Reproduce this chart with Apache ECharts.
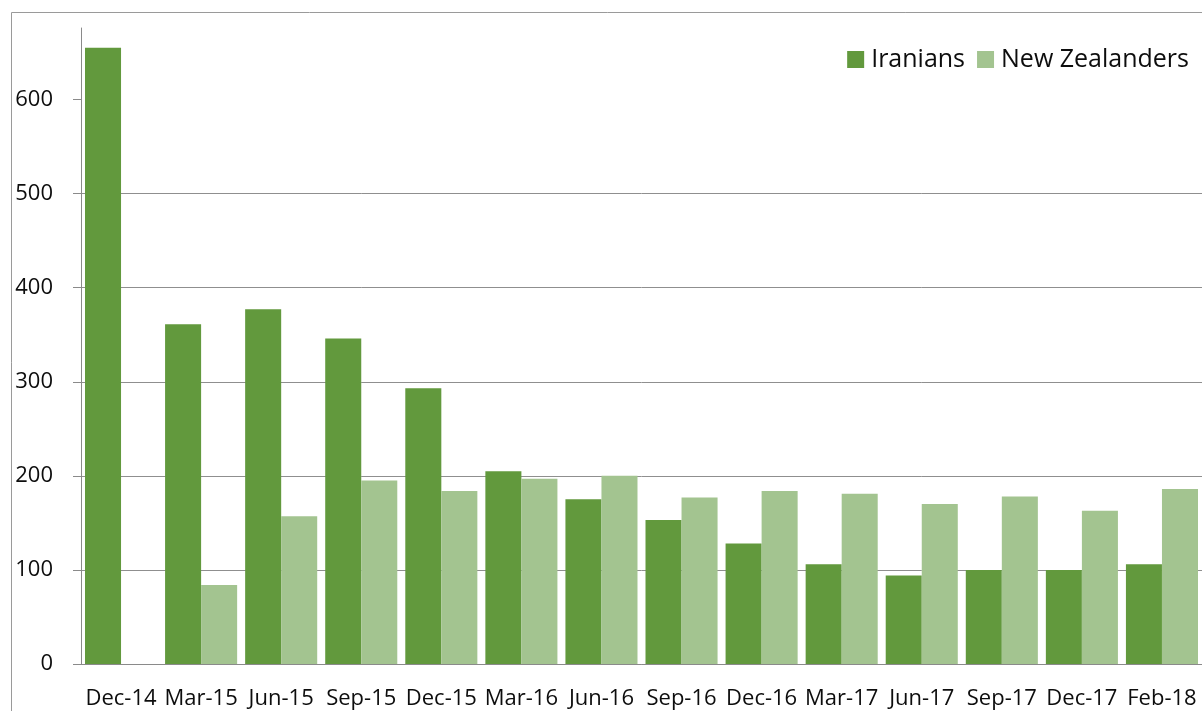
<!DOCTYPE html>
<html>
<head>
<meta charset="utf-8">
<script src="https://cdn.jsdelivr.net/npm/echarts@6/dist/echarts.min.js"></script>
<style>
  html, body { margin: 0; padding: 0; background: #ffffff; }
  #main { width: 1202px; height: 711px; }
</style>
</head>
<body>
<div id="main"></div>
<script>
// quarters shown on the x axis
var categories = ['Dec-14', 'Mar-15', 'Jun-15', 'Sep-15', 'Dec-15', 'Mar-16', 'Jun-16',
  'Sep-16', 'Dec-16', 'Mar-17', 'Jun-17', 'Sep-17', 'Dec-17', 'Feb-18']
var iranians = [655, 361, 377, 346, 293, 205, 175, 153, 128, 106, 94, 100, 100, 106]
// no bar for Dec-14
var newZealanders = ['-', 84, 157, 195, 184, 197, 200, 177, 184, 181, 170, 178, 163, 186]
var yTicks = [0, 100, 200, 300, 400, 500, 600]

var myChart = echarts.init(document.getElementById('main'))
var labelFont = {
  fontFamily: 'Open Sans',
  fontSize: 22,
  color: '#0d0d0d'
}

myChart.setOption({
  animation: false,
  graphic: [
    {
      type: 'rect',
      shape: { x: 11.5, y: 12.5, width: 1300, height: 800 },
      style: { fill: 'none', stroke: '#9a9a9a', lineWidth: 1 },
      silent: true
    }
  ],
  legend: {
    data: ['Iranians', 'New Zealanders'],
    right: 8,
    top: 42,
    icon: 'rect',
    itemWidth: 17,
    itemHeight: 17,
    itemGap: 12,
    textStyle: {
      fontFamily: 'Open Sans',
      fontSize: 25,
      color: '#0d0d0d',
      padding: [0, 0, 0, 2]
    }
  },
  grid: {
    left: 81,
    right: -6,
    top: 28,
    bottom: 47
  },
  xAxis: {
    type: 'category',
    data: categories,
    axisLine: { lineStyle: { color: '#8a8a8a' } },
    axisTick: { length: 8, lineStyle: { color: '#8a8a8a' } },
    axisLabel: Object.assign({ margin: 24, interval: 0 }, labelFont)
  },
  yAxis: {
    type: 'value',
    min: 0,
    max: 676,
    interval: 100,
    axisLine: { show: true, lineStyle: { color: '#8a8a8a' } },
    axisTick: {
      show: true,
      length: 8,
      customValues: yTicks,
      lineStyle: { color: '#8a8a8a' }
    },
    splitLine: {
      show: true,
      showMaxLine: false,
      lineStyle: { color: '#8f8f8f', width: 1 }
    },
    axisLabel: Object.assign({ margin: 28, customValues: yTicks }, labelFont)
  },
  series: [
    {
      name: 'Iranians',
      type: 'bar',
      barGap: '0%',
      barCategoryGap: '10%',
      itemStyle: { color: '#62993d' },
      data: iranians
    },
    {
      name: 'New Zealanders',
      type: 'bar',
      barGap: '0%',
      barCategoryGap: '10%',
      itemStyle: { color: '#a3c490' },
      data: newZealanders
    }
  ]
})
</script>
</body>
</html>
